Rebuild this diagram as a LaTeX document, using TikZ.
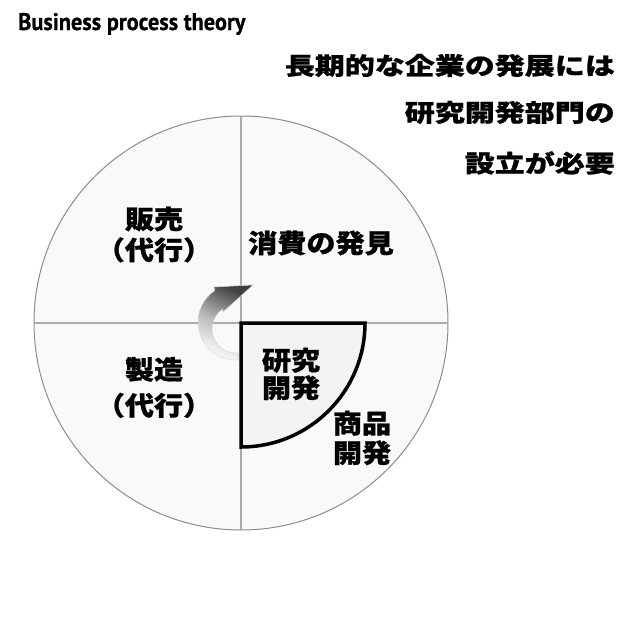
\documentclass[tikz,border=0pt]{standalone}
\usepackage{fontspec}
\newfontfamily\jphead[FakeStretch=1.25,BoldFeatures={FakeBold=0.8}]{Noto Sans CJK JP}
\newfontfamily\jplabel[FakeStretch=1.12,BoldFeatures={FakeBold=0.8}]{Noto Sans CJK JP}
\newfontfamily\latinhead[FakeStretch=0.93,BoldFeatures={FakeBold=0.6}]{PT Sans}
\definecolor{diskfill}{RGB}{248,249,249}
\definecolor{rdfill}{RGB}{242,243,243}
\tikzset{
  divider/.style={draw=black!33,line width=1.5pt},
  headline/.style={anchor=east,inner sep=0pt,font=\jphead\bfseries\fontsize{24}{28}\selectfont},
  quarter/.style={inner sep=0pt,align=center,font=\jplabel\bfseries\fontsize{26}{29}\selectfont}
}
\begin{document}
\begin{tikzpicture}[x=1pt,y=-1pt]
\useasboundingbox (0,0) rectangle (640,640);
\coordinate (c) at (241,323);
\filldraw[fill=diskfill,draw=black!45,line width=1pt] (c) circle[radius=207];
\draw[divider] (241,116)--(241,530) (34,323)--(448,323);
\shadedraw[top color=black!75,bottom color=white,middle color=black!28,shading angle=-25,draw=black!15,line width=0.5pt]
  (239.3,359.9) arc[start angle=85,end angle=236,radius=38]
  -- (214,287) -- (253,285) -- (223,312) -- (222.6,309.1)
  arc[start angle=236,end angle=85,radius=24] -- cycle;
\filldraw[fill=rdfill,line width=3.5pt] (c) -- ++(124,0) arc[start angle=0,end angle=90,radius=124] -- cycle;
\node[anchor=base west,inner sep=0pt,font=\latinhead\bfseries\fontsize{24}{26}\selectfont] (title) at (18,30) {Business process theory};
\node[headline] (head1) at (615,65.5) {長期的な企業の発展には};
\node[headline] (head2) at (615,112.5) {研究開発部門の};
\node[headline] (head3) at (615,163) {設立が必要};
\node[quarter] (sales) at (154,234.5) {販売\\[2pt]（代行）};
\node[quarter] (make) at (154,387.5) {製造\\[7pt]（代行）};
\node[quarter] (find) at (321,243) {消費の発見};
\node[quarter] (rd) at (291,374) {研究\\[-1.5pt]開発};
\node[quarter] (goods) at (362,438) {商品\\[0.5pt]開発};
\end{tikzpicture}
\end{document}
